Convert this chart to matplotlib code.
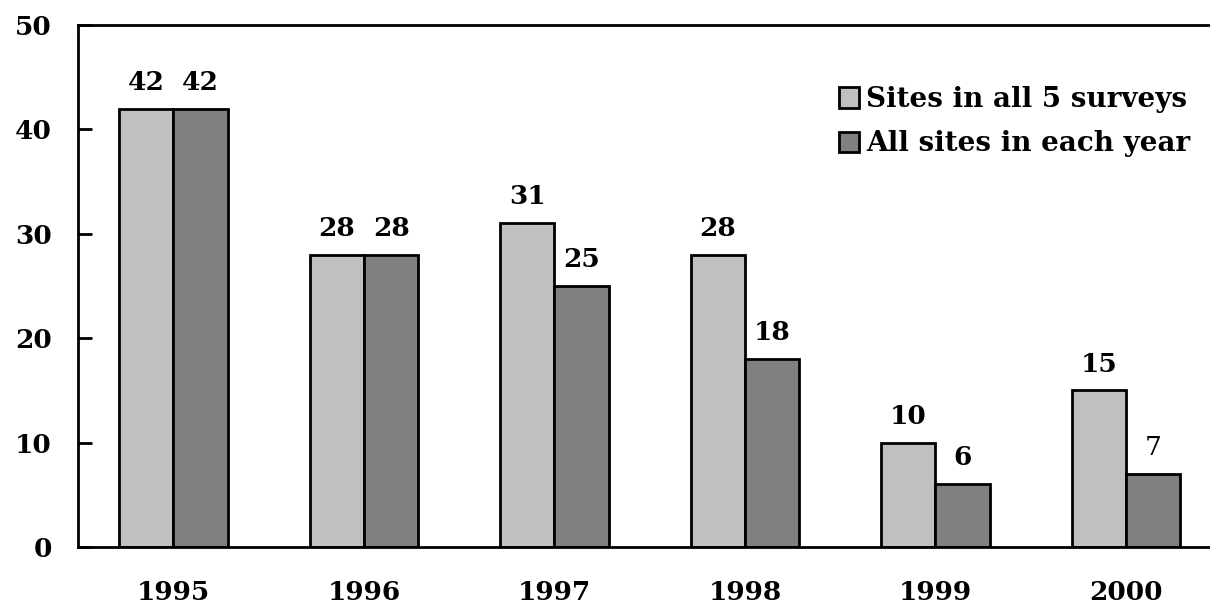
import matplotlib.pyplot as plt
import numpy as np

years = ['1995', '1996', '1997', '1998', '1999', '2000']
sites_all5 = [42, 28, 31, 28, 10, 15]
sites_each = [42, 28, 25, 18, 6, 7]
labels_each_bold = [True, True, True, True, True, False]

plt.rcParams['font.family'] = 'DejaVu Serif'
plt.rcParams['font.weight'] = 'bold'

fig = plt.figure(figsize=(12.1, 6.08), dpi=100)
ax = fig.add_axes([0.0645, 0.1003, 0.9355, 0.8586])

x = np.arange(len(years))
w = 0.286
b1 = ax.bar(x - w / 2, sites_all5, w, color='#c0c0c0', edgecolor='black', linewidth=2,
            label='Sites in all 5 surveys')
b2 = ax.bar(x + w / 2, sites_each, w, color='#808080', edgecolor='black', linewidth=2,
            label='All sites in each year')

for xi, v in zip(x, sites_all5):
    ax.annotate(str(v), (xi - w / 2, v), xytext=(0, 10), textcoords='offset points',
                ha='center', va='bottom', fontsize=19, fontweight='bold')
for xi, v, bold in zip(x, sites_each, labels_each_bold):
    ax.annotate(str(v), (xi + w / 2, v), xytext=(0, 10), textcoords='offset points',
                ha='center', va='bottom', fontsize=19,
                fontweight='bold' if bold else 'normal')

ax.set_xlim(-0.501, 5.441)
ax.set_ylim(0, 50)
ax.set_yticks([0, 10, 20, 30, 40, 50])
ax.set_xticks(x)
ax.set_xticklabels(years)
ax.tick_params(axis='y', direction='in', length=10, width=2, labelsize=19, pad=19)
ax.tick_params(axis='x', length=0, labelsize=19, pad=24)
for lab in ax.get_yticklabels():
    lab.set_fontweight('bold')
for lab in ax.get_xticklabels():
    lab.set_fontweight('bold')

ax.spines['right'].set_visible(False)
for s in ['left', 'top', 'bottom']:
    ax.spines[s].set_linewidth(2)

ax.legend(loc='upper right', bbox_to_anchor=(1.0, 0.92), frameon=False,
          prop={'size': 20, 'weight': 'bold'}, handlelength=0.75, handleheight=0.75,
          handletextpad=0.25, labelspacing=0.62, borderaxespad=0.3)

fig.savefig('out.png', dpi=100)
